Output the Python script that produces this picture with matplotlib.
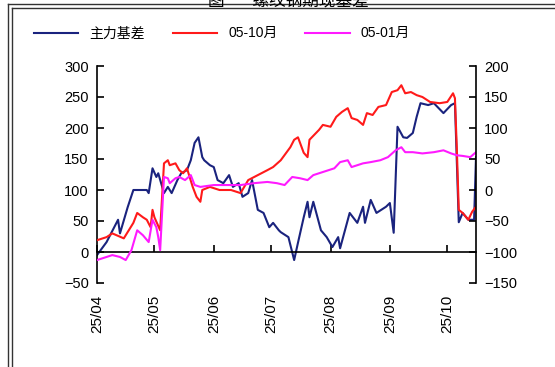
import matplotlib
matplotlib.use("Agg")
import matplotlib.pyplot as plt
import matplotlib.transforms as mtransforms
from matplotlib.lines import Line2D
import pandas as pd

plt.rcParams['font.family'] = ['Liberation Sans', 'Noto Sans CJK SC', 'DejaVu Sans']

start = pd.Timestamp('2025-04-01')

# 主力基差 (left axis): day offsets from 2025-04-01 and values
basis_days = [0, 5, 11, 12, 16, 19, 26, 27, 29, 31, 32, 35, 37, 39, 42, 44, 47, 49, 51, 53,
              55, 56, 59, 61, 63, 66, 69, 71, 74, 76, 79, 81, 84, 87, 90, 92, 95, 96, 100, 103,
              105, 108, 110, 111, 113, 117, 120, 123, 126, 127, 132, 136, 139, 140, 143, 146,
              151, 153, 155, 157, 160, 162, 165, 167, 169, 173, 176, 181, 185, 187, 189, 191,
              194, 197, 198]
basis_vals = [-5, 16, 52, 30, 72, 100, 100, 95, 135, 121, 127, 95, 105, 95, 116, 127, 132, 148,
              176, 185, 153, 148, 140, 137, 116, 111, 124, 105, 111, 89, 95, 116, 68, 63, 40, 47,
              35, 32, 24, -13, 15, 56, 81, 56, 81, 35, 24, 8, 24, 6, 63, 47, 73, 47, 84, 63, 73,
              79, 31, 202, 185, 184, 192, 218, 240, 237, 240, 224, 237, 240, 48, 63, 52, 52, 153]

# 05-10月 (right axis)
s510_days = [0, 5, 8, 14, 19, 21, 24, 26, 28, 29, 30, 33, 35, 37, 38, 41, 43, 45, 47, 50, 52,
             54, 55, 59, 64, 70, 75, 79, 84, 89, 92, 96, 101, 103, 105, 108, 110, 111, 116, 118,
             122, 125, 128, 131, 133, 136, 139, 141, 144, 147, 151, 154, 157, 159, 161, 164, 167,
             170, 174, 179, 183, 186, 187, 188, 189, 191, 194, 196, 198]
s510_vals = [-81, -76, -70, -78, -53, -37, -44, -48, -60, -32, -44, -65, 43, 48, 40, 43, 32, 27,
             35, 5, -11, -19, 0, 5, 0, 0, -5, 16, 24, 32, 37, 48, 69, 81, 85, 60, 53, 81, 97, 105,
             102, 118, 126, 132, 116, 113, 105, 124, 121, 134, 137, 158, 161, 169, 156, 158, 153,
             150, 142, 140, 142, 156, 148, 65, -32, -37, -48, -35, -27]

# 05-01月 (right axis)
s501_days = [0, 5, 8, 12, 15, 18, 21, 24, 27, 29, 31, 32, 33, 35, 37, 38, 41, 43, 46, 49, 51,
             54, 61, 68, 75, 82, 89, 94, 98, 102, 106, 110, 113, 118, 124, 127, 131, 133, 139,
             143, 148, 152, 156, 159, 161, 165, 170, 176, 181, 185, 188, 191, 195, 198]
s501_vals = [-113, -108, -105, -108, -113, -97, -65, -73, -84, -48, -60, -76, -97, 21, 19, 11,
             19, 21, 16, 24, 8, 5, 8, 8, 8, 11, 13, 11, 8, 21, 19, 16, 24, 29, 35, 45, 48, 37,
             43, 45, 48, 53, 64, 69, 61, 61, 59, 61, 64, 59, 56, 55, 53, 61]

month_ticks = ['2025-04-01', '2025-05-01', '2025-06-01', '2025-07-01', '2025-08-01',
               '2025-09-01', '2025-10-01']
month_labels = ['25/04', '25/05', '25/06', '25/07', '25/08', '25/09', '25/10']


def to_dates(days):
    return start + pd.to_timedelta(days, unit='D')


fig = plt.figure(figsize=(5.55, 3.67), dpi=100)
ax = fig.add_axes([97 / 555, 1 - 283 / 367, (476 - 97) / 555, (283 - 66) / 367])
ax2 = ax.twinx()

l1, = ax.plot(to_dates(basis_days), basis_vals, color='#1a237e', lw=1.5, label='主力基差')
l2, = ax2.plot(to_dates(s510_days), s510_vals, color='#ff1a1a', lw=1.5, label='05-10月')
l3, = ax2.plot(to_dates(s501_days), s501_vals, color='#ff1aff', lw=1.5, label='05-01月')

for a in (ax, ax2):
    a.spines['top'].set_visible(False)
    a.patch.set_visible(False)
ax.spines['right'].set_visible(False)
ax2.spines['left'].set_visible(False)
ax2.spines['bottom'].set_visible(False)
ax.spines['bottom'].set_position(('data', 0))
for sp in ('left', 'bottom'):
    ax.spines[sp].set_linewidth(1.2)
ax2.spines['right'].set_linewidth(1.2)

ax.set_ylim(-50, 300)
ax2.set_ylim(-150, 200)
ax.set_yticks(range(-50, 301, 50))
ax2.set_yticks(range(-150, 201, 50))
ax.set_xlim(start, start + pd.Timedelta(days=198))

tick_dates = pd.to_datetime(month_ticks)
ax.set_xticks(tick_dates)
ax.set_xticklabels(month_labels, rotation=90, fontsize=11)
shift = mtransforms.ScaledTranslation(-5 / 100, 0, fig.dpi_scale_trans)
for lab in ax.get_xticklabels():
    lab.set_transform(lab.get_transform() + shift)

ax.tick_params(axis='y', direction='in', length=5, width=1.2, labelsize=10.5, pad=6)
ax2.tick_params(axis='y', direction='in', length=5, width=1.2, labelsize=10.5, pad=6)
ax.tick_params(axis='x', direction='in', length=5, width=1.2, pad=31)

ax.legend(handles=[l1, l2, l3], loc='upper left', bbox_to_anchor=(-0.2, 1.24), ncol=3,
          frameon=False, fontsize=10, handlelength=3.2, columnspacing=2.0,
          handletextpad=0.8)

# figure frame (double border) and cut-off title
for x in (8 / 555, 12 / 555):
    fig.add_artist(Line2D([x, x], [0, 1 - (x * 555 - 4) / 367], color='#333333', lw=1,
                          transform=fig.transFigure))
for y, x0 in ((3.5, 8), (8, 12)):
    fig.add_artist(Line2D([x0 / 555, 1], [1 - y / 367, 1 - y / 367], color='#333333', lw=1,
                          transform=fig.transFigure))
fig.text(0.52, 1 - 1 / 367, '图      螺纹钢期现基差', ha='center', va='center', fontsize=12)

fig.savefig('out.png', dpi=100)
